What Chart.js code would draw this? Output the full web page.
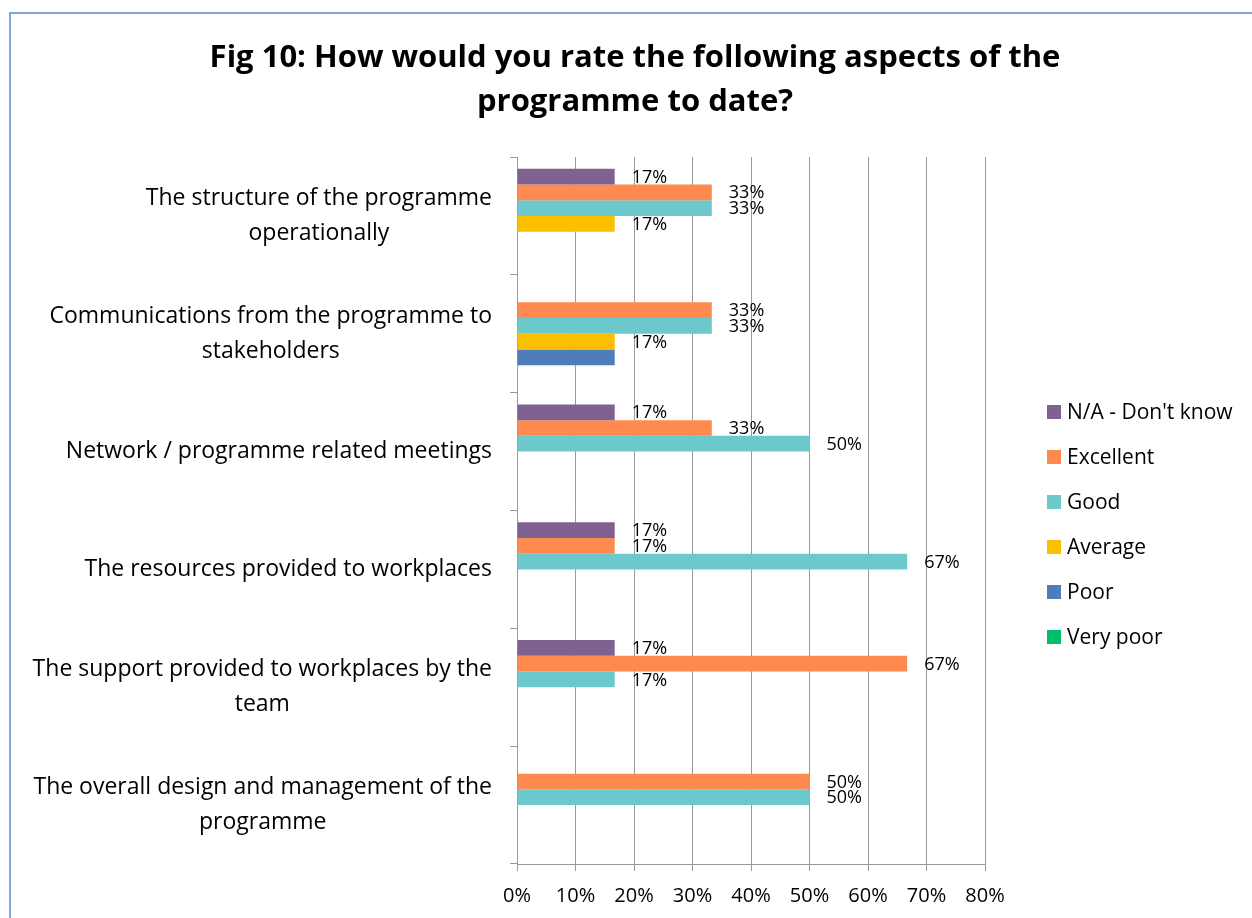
<!DOCTYPE html>
<html>
<head>
<meta charset="utf-8">
<script src="https://cdn.jsdelivr.net/npm/chart.js@4.4.1/dist/chart.umd.min.js"></script>
<style>
  html, body { margin: 0; padding: 0; background: #fff; overflow: hidden; }
  #wrap { position: relative; width: 1252px; height: 918px; }
  #frame { position: absolute; left: 9px; top: 12px; width: 1400px; height: 1000px; border: 2px solid #86A3DB; }
  #chart { position: absolute; left: 0; top: 0; }
</style>
</head>
<body>
<div id="wrap">
  <div id="frame"></div>
  <canvas id="chart" width="1252" height="918"></canvas>
</div>
<script>
// Chart data
const categories = [
  ['The structure of the programme', 'operationally'],
  ['Communications from the programme to', 'stakeholders'],
  ['Network / programme related meetings'],
  ['The resources provided to workplaces'],
  ['The support provided to workplaces by the', 'team'],
  ['The overall design and management of the', 'programme']
];
const seriesNames = ["N/A - Don't know", 'Excellent', 'Good', 'Average', 'Poor', 'Very poor'];
const seriesColors = ['#7F6192', '#FF8A4F', '#6BC9CC', '#FBBF00', '#4F7CBB', '#00BF6A'];
// the original only shows value labels on these series (none on Poor)
const seriesShowLabels = [true, true, true, true, false, true];

const naDontKnow = [16.7, 0, 16.7, 16.7, 16.7, 0];
const excellent = [33.3, 33.3, 33.3, 16.7, 66.7, 50];
const good = [33.3, 33.3, 50, 66.7, 16.7, 50];
const average = [16.7, 16.7, 0, 0, 0, 0];
const poor = [0, 16.7, 0, 0, 0, 0];
const veryPoor = [0, 0, 0, 0, 0, 0];
const seriesValues = [naDontKnow, excellent, good, average, poor, veryPoor];

const xMin = 0;
const xMax = 80;
const xStep = 10;

const titleLines = ['Fig 10: How would you rate the following aspects of the', 'programme to date?'];

const FONT = '"Open Sans", "DejaVu Sans", sans-serif';
const gridGray = '#9A9A9A';

// Category labels: centered lines, block right-aligned next to the axis
const categoryLabels = {
    id: 'categoryLabels',
    afterDraw(chart) {
        const ctx = chart.ctx;
        const yScale = chart.scales.y;
        ctx.save();
        ctx.font = '23px ' + FONT;
        ctx.fillStyle = '#000';
        ctx.textAlign = 'center';
        ctx.textBaseline = 'middle';
        categories.forEach((lines, i) => {
            const y = yScale.getPixelForValue(i);
            const blockWidth = Math.max(...lines.map(l => ctx.measureText(l).width));
            const cx = yScale.right - 25 - blockWidth / 2;
            lines.forEach((line, j) => {
                ctx.fillText(line, cx, y + (j - (lines.length - 1) / 2) * 35);
            });
        });
        ctx.restore();
    }
};

// Value labels at the end of each non-zero bar
const valueLabels = {
    id: 'valueLabels',
    afterDatasetsDraw(chart) {
        const ctx = chart.ctx;
        ctx.save();
        ctx.font = '18px ' + FONT;
        ctx.fillStyle = '#000';
        ctx.textAlign = 'left';
        ctx.textBaseline = 'middle';
        chart.data.datasets.forEach((ds, di) => {
            if (!seriesShowLabels[di]) return;
            const meta = chart.getDatasetMeta(di);
            meta.data.forEach((bar, i) => {
                const v = ds.data[i];
                if (!v) return;
                ctx.fillText(Math.round(v) + '%', bar.x + 17, bar.y + 1);
            });
        });
        ctx.restore();
    }
};

// Legend on the right
const sideLegend = {
    id: 'sideLegend',
    afterDraw(chart) {
        const ctx = chart.ctx;
        const area = chart.chartArea;
        const x = area.right + 62;
        const y0 = area.top + 255;
        ctx.save();
        ctx.font = '21px ' + FONT;
        ctx.textAlign = 'left';
        ctx.textBaseline = 'middle';
        chart.data.datasets.forEach((ds, i) => {
            const y = y0 + i * 45;
            ctx.fillStyle = ds.backgroundColor;
            ctx.fillRect(x, y - 7, 14, 14);
            ctx.fillStyle = '#000';
            ctx.fillText(ds.label, x + 20, y + 1);
        });
        ctx.restore();
    }
};

new Chart(document.getElementById('chart'), {
    type: 'bar',
    data: {
        labels: categories.map(l => l.join(' ')),
        datasets: seriesNames.map((name, i) => ({
            label: name,
            data: seriesValues[i],
            backgroundColor: seriesColors[i],
            borderWidth: 0,
            barPercentage: 1,
            categoryPercentage: 0.8
        }))
    },
    options: {
        indexAxis: 'y',
        responsive: false,
        animation: false,
        layout: { padding: { left: 18, right: 0, top: 0, bottom: 0 } },
        scales: {
            x: {
                min: xMin,
                max: xMax,
                ticks: {
                    stepSize: xStep,
                    color: '#000',
                    font: { family: FONT, size: 20 },
                    padding: 13,
                    callback: (v) => v + '%'
                },
                grid: { color: gridGray, tickLength: 7 },
                border: { color: gridGray },
                afterFit(scale) { scale.height = 54; }
            },
            y: {
                ticks: { display: false },
                grid: { offset: true, drawOnChartArea: false, drawTicks: true, tickLength: 7, color: gridGray },
                border: { color: gridGray },
                afterFit(scale) { scale.width = 517 - 18; }
            },
            legendSpace: {
                type: 'linear',
                position: 'right',
                ticks: { display: false },
                grid: { display: false },
                border: { display: false },
                afterFit(scale) { scale.width = 1252 - 985; }
            }
        },
        plugins: {
            legend: { display: false },
            tooltip: { enabled: false },
            title: {
                display: true,
                text: titleLines,
                color: '#000',
                font: { family: FONT, size: 31, weight: 'bold', lineHeight: 44 / 31 },
                padding: { top: 36, bottom: 33 }
            }
        }
    },
    plugins: [categoryLabels, valueLabels, sideLegend]
});
</script>
</body>
</html>
